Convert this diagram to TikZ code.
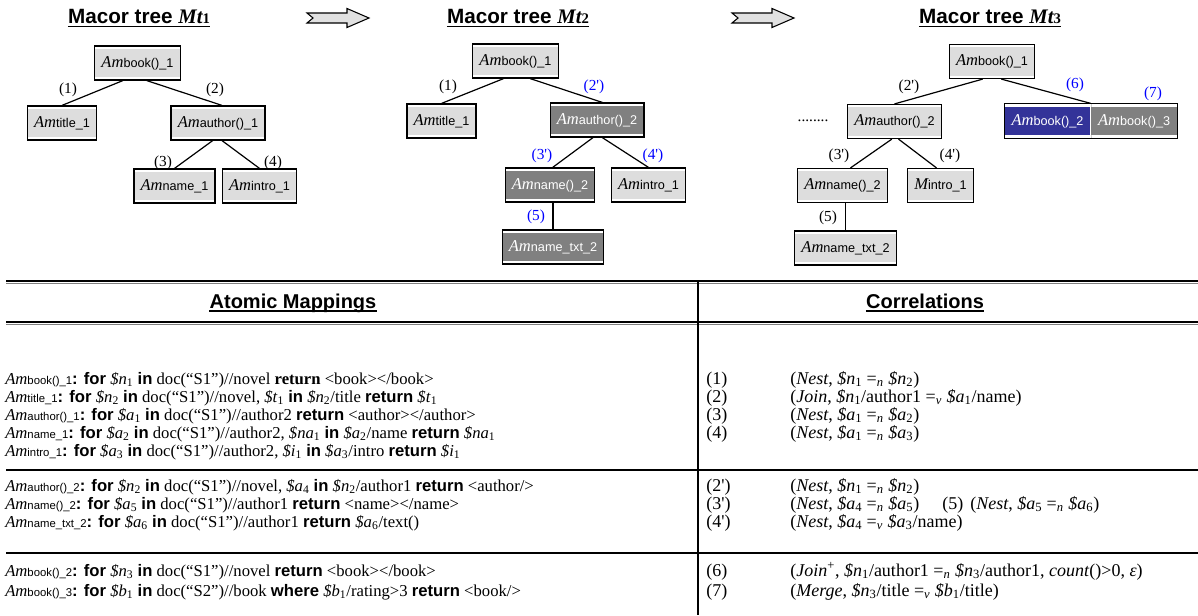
\documentclass[tikz,border=0pt]{standalone}
\usepackage{fontspec}
\setmainfont{Liberation Serif}
\setsansfont{Liberation Sans}
\usetikzlibrary{positioning,fit}

\definecolor{boxlight}{RGB}{221,221,221}
\definecolor{boxdark}{RGB}{128,128,128}
\definecolor{boxblue}{RGB}{51,51,153}
\definecolor{lblblue}{RGB}{0,0,255}
\definecolor{arrowfill}{RGB}{225,225,225}

% atomic mapping names (tree / table)
\newcommand{\amt}[1]{{\fontsize{12.4}{14}\selectfont\itshape Am}{\sffamily\fontsize{9.5}{11}\selectfont #1}}
\newcommand{\ams}[1]{\textit{Am}{\sffamily\fontsize{8.5}{10}\selectfont #1}}
\newcommand{\kw}[1]{{\sffamily\bfseries #1}}
\newcommand{\dv}[2]{\textit{\$#1}\textsubscript{#2}}
\newcommand{\eqn}[1]{=\textsubscript{\textit{#1}}}
\newcommand{\pr}{\textquotesingle}

\begin{document}
\begin{tikzpicture}[
  x=0.75pt, y=-0.75pt,
  ambox/.style={draw, line width=0.9pt, fill=boxlight, minimum height=25.5pt,
    inner xsep=5pt, inner ysep=0pt,
    path picture={
      \fill[white] (path picture bounding box.north west) rectangle ([yshift=-2.2pt]path picture bounding box.north east);
      \fill[white] (path picture bounding box.south west) rectangle ([yshift=2.2pt]path picture bounding box.south east);}},
  amdark/.style={ambox, fill=boxdark, text=white},
  amblue/.style={ambox, draw=none, fill=boxblue, text=white},
  amgray/.style={ambox, draw=none, fill=boxdark, text=white},
  edge/.style={line width=0.9pt},
  lbl/.style={font=\fontsize{11.5}{12}\selectfont, inner sep=0pt},
  lblb/.style={lbl, text=lblblue},
  ttl/.style={font=\sffamily\bfseries\fontsize{15.5}{18}\selectfont, inner sep=0pt, anchor=base},
  hdr/.style={font=\sffamily\bfseries\fontsize{15}{17}\selectfont, inner sep=0pt, anchor=base},
  uline/.style={line width=1.4pt},
  fatarrow/.style={draw, line width=0.8pt, fill=arrowfill, line join=miter},
  row/.style={font=\fontsize{12.5}{14}\selectfont, inner sep=0pt, anchor=base west},
  crow/.style={row, font=\fontsize{13.5}{16}\selectfont},
  tline/.style={line width=1.2pt}
]
\useasboundingbox (0,0) rectangle (1198,615);

% titles
\node[ttl] (mt1) at (139,23) {Macor tree {\rmfamily\itshape Mt}{\rmfamily\fontsize{11}{11}\selectfont 1}};
\node[ttl] (mt2) at (518,23) {Macor tree {\rmfamily\itshape Mt}{\rmfamily\fontsize{11}{11}\selectfont 2}};
\node[ttl] (mt3) at (990,23) {Macor tree {\rmfamily\itshape Mt}{\rmfamily\fontsize{11}{11}\selectfont 3}};
\foreach \t in {mt1,mt2,mt3}
  \draw[uline] ([yshift=-2.6pt]\t.base west) -- ([yshift=-2.6pt]\t.base east);
\foreach \ax in {307,732}
  \draw[fatarrow] (\ax,13) -- ++(40,0) -- ++(0,-4.5) -- ++(22,9.5) -- ++(-22,9.5)
    -- ++(0,-4.5) -- ++(-40,0) -- ++(6,-5) -- cycle;

% macro tree 1
\node[ambox] (r1) at (137.5,63) {\amt{book()\_1}};
\node[ambox] (t1) at (62,123) {\amt{title\_1}};
\node[ambox] (a1) at (218,123) {\amt{author()\_1}};
\node[ambox] (n1) at (174.5,186) {\amt{name\_1}};
\node[ambox] (i1) at (259.5,186) {\amt{intro\_1}};
\draw[edge] ([xshift=-11pt]r1.south) -- (t1.north);
\draw[edge] ([xshift=7pt]r1.south) -- ([xshift=3pt]a1.north);
\draw[edge] ([xshift=-4pt]a1.south) -- (n1.north);
\draw[edge] ([xshift=3pt]a1.south) -- (i1.north);
\node[lbl] (e11) at (68,90) {(1)};
\node[lbl] (e12) at (215,90) {(2)};
\node[lbl] (e13) at (163,163) {(3)};
\node[lbl] (e14) at (273,163) {(4)};

% macro tree 2
\node[ambox] (r2) at (515.5,61) {\amt{book()\_1}};
\node[ambox] (t2) at (441.5,121) {\amt{title\_1}};
\node[amdark] (a2) at (597,120) {\amt{author()\_2}};
\node[amdark] (n2) at (550,185) {\amt{name()\_2}};
\node[ambox] (i2) at (648.5,185) {\amt{intro\_1}};
\node[amdark] (x2) at (553,247) {\amt{name\_txt\_2}};
\draw[edge] ([xshift=-9pt]r2.south) -- (t2.north);
\draw[edge] ([xshift=11pt]r2.south) -- ([xshift=4pt]a2.north);
\draw[edge] ([xshift=-3pt]a2.south) -- ([xshift=2pt]n2.north);
\draw[edge] ([xshift=4pt]a2.south) -- (i2.north);
\draw[edge] (x2.north) -- (x2.north |- n2.south);
\node[lbl] (e21) at (448,87) {(1)};
\node[lblb] (e22) at (594,87) {(2\pr)};
\node[lblb] (e23) at (542,156) {(3\pr)};
\node[lblb] (e24) at (653,156) {(4\pr)};
\node[lblb] (e25) at (536,217) {(5)};

% macro tree 3
\node[ambox] (r3) at (992,61.5) {\amt{book()\_1}};
\node[ambox] (a3) at (894.5,121.5) {\amt{author()\_2}};
\node[lbl] (dots) at (813,121) {........};
\node[amblue] (bk2) at (1047.5,121) {\amt{book()\_2}};
\node[amgray, right=0pt of bk2] (bk3) {\amt{book()\_3}};
\node[draw, line width=0.9pt, inner sep=0pt, fit=(bk2)(bk3)] (bk) {};
\node[ambox] (n3) at (842.5,185.5) {\amt{name()\_2}};
\node[ambox] (i3) at (940.5,185.5) {{\fontsize{12.4}{14}\selectfont\itshape M}{\sffamily\fontsize{9.5}{11}\selectfont intro\_1}};
\node[ambox] (x3) at (845.5,248) {\amt{name\_txt\_2}};
\draw[edge] ([xshift=-7pt]r3.south) -- (a3.north);
\draw[edge] ([xshift=7pt]r3.south) -- (bk2.north east);
\draw[edge] ([xshift=-2pt]a3.south) -- ([xshift=6pt]n3.north);
\draw[edge] ([xshift=3pt]a3.south) -- ([xshift=-3pt]i3.north);
\draw[edge] (x3.north) -- (x3.north |- n3.south);
\node[lbl] (e32) at (909,87) {(2\pr)};
\node[lblb] (e36) at (1075,85) {(6)};
\node[lblb] (e37) at (1153,94) {(7)};
\node[lbl] (e33) at (839,156) {(3\pr)};
\node[lbl] (e34) at (950,156) {(4\pr)};
\node[lbl] (e35) at (828,218) {(5)};

% table
\draw[tline] (6,281) -- (1198,281);
\draw[line width=0.7pt, gray] (6,283.5) -- (1198,283.5);
\draw[tline] (6,322) -- (1198,322);
\draw[line width=0.7pt, gray] (6,324.5) -- (1198,324.5);
\draw[tline] (6,470) -- (1198,470);
\draw[tline] (6,553) -- (1198,553);
\draw[line width=1pt] (698,281) -- (698,615);

\node[hdr] (hm) at (293,308) {Atomic Mappings};
\node[hdr] (hc) at (925,308) {Correlations};
\foreach \t in {hm,hc}
  \draw[uline] ([yshift=-2.4pt]\t.base west) -- ([yshift=-2.4pt]\t.base east);

% atomic mappings
\node[row] (m1) at (5,384) {\ams{book()\_1}\kw{: for} \dv{n}{1} \kw{in} doc(“S1”)//novel \textbf{return} <book></book>};
\node[row] (m2) at (5,402) {\ams{title\_1}\kw{: for} \dv{n}{2} \kw{in} doc(“S1”)//novel, \dv{t}{1} \kw{in} \dv{n}{2}/title \kw{return} \dv{t}{1}};
\node[row] (m3) at (5,420) {\ams{author()\_1}\kw{: for} \dv{a}{1} \kw{in} doc(“S1”)//author2 \kw{return} <author></author>};
\node[row] (m4) at (5,438) {\ams{name\_1}\kw{: for} \dv{a}{2} \kw{in} doc(“S1”)//author2, \dv{na}{1} \kw{in} \dv{a}{2}/name \kw{return} \dv{na}{1}};
\node[row] (m5) at (5,456) {\ams{intro\_1}\kw{: for} \dv{a}{3} \kw{in} doc(“S1”)//author2, \dv{i}{1} \kw{in} \dv{a}{3}/intro \kw{return} \dv{i}{1}};
\node[row] (m6) at (5,491) {\ams{author()\_2}\kw{: for} \dv{n}{2} \kw{in} doc(“S1”)//novel, \dv{a}{4} \kw{in} \dv{n}{2}/author1 \kw{return} <author/>};
\node[row] (m7) at (5,509) {\ams{name()\_2}\kw{: for} \dv{a}{5} \kw{in} doc(“S1”)//author1 \kw{return} <name></name>};
\node[row] (m8) at (5,527) {\ams{name\_txt\_2}\kw{: for} \dv{a}{6} \kw{in} doc(“S1”)//author1 \kw{return} \dv{a}{6}/text()};
\node[row] (m9) at (5,576) {\ams{book()\_2}\kw{: for} \dv{n}{3} \kw{in} doc(“S1”)//novel \kw{return} <book></book>};
\node[row] (m10) at (5,596) {\ams{book()\_3}\kw{: for} \dv{b}{1} \kw{in} doc(“S2”)//book \kw{where} \dv{b}{1}/rating>3 \kw{return} <book/>};

% correlations
\node[crow] (k1) at (706,384) {(1)};
\node[crow] (k2) at (706,402) {(2)};
\node[crow] (k3) at (706,420) {(3)};
\node[crow] (k4) at (706,438) {(4)};
\node[crow] (k2p) at (706,491) {(2\pr)};
\node[crow] (k3p) at (706,509) {(3\pr)};
\node[crow] (k4p) at (706,527) {(4\pr)};
\node[crow] (k6) at (706,576) {(6)};
\node[crow] (k7) at (706,596) {(7)};
\node[crow] (c1) at (790,384) {(\textit{Nest}, \dv{n}{1} \eqn{n} \dv{n}{2})};
\node[crow] (c2) at (790,402) {(\textit{Join}, \dv{n}{1}/author1 \eqn{v} \dv{a}{1}/name)};
\node[crow] (c3) at (790,420) {(\textit{Nest}, \dv{a}{1} \eqn{n} \dv{a}{2})};
\node[crow] (c4) at (790,438) {(\textit{Nest}, \dv{a}{1} \eqn{n} \dv{a}{3})};
\node[crow] (c2p) at (790,491) {(\textit{Nest}, \dv{n}{1} \eqn{n} \dv{n}{2})};
\node[crow] (c3p) at (790,509) {(\textit{Nest}, \dv{a}{4} \eqn{n} \dv{a}{5})};
\node[crow] (k5) at (942,509) {(5)};
\node[crow] (c5) at (970,509) {(\textit{Nest}, \dv{a}{5} \eqn{n} \dv{a}{6})};
\node[crow] (c4p) at (790,527) {(\textit{Nest}, \dv{a}{4} \eqn{v} \dv{a}{3}/name)};
\node[crow] (c6) at (790,576) {(\textit{Join}\textsuperscript{+}, \dv{n}{1}/author1 \eqn{n} \dv{n}{3}/author1, \textit{count}()>0, \textit{ε})};
\node[crow] (c7) at (790,596) {(\textit{Merge}, \dv{n}{3}/title \eqn{v} \dv{b}{1}/title)};
\end{tikzpicture}
\end{document}
